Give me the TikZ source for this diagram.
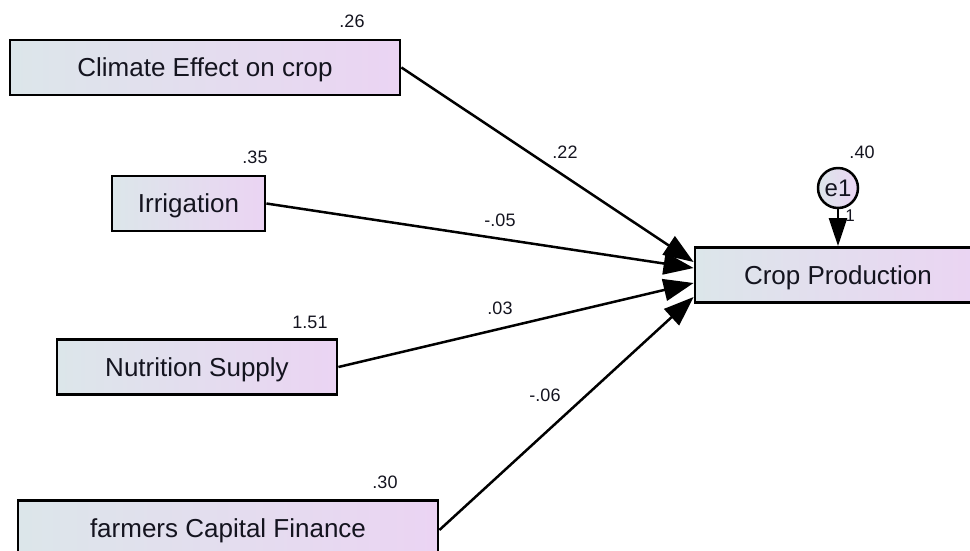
\documentclass[tikz,border=0pt]{standalone}
\usepackage{fontspec}
\setmainfont{Liberation Sans}
\usetikzlibrary{arrows.meta}

\begin{document}
\begin{tikzpicture}[x=1pt, y=-1pt, font=\fontsize{26}{30}\selectfont]
  \definecolor{boxleft}{HTML}{DCE6EA}
  \definecolor{boxright}{HTML}{EBD4F3}
  \definecolor{inktext}{HTML}{14141F}
  \tikzset{
    var/.style={draw=black, line width=2.8pt, left color=boxleft, right color=boxright,
      minimum height=55pt, inner sep=0pt, text=inktext, text height=19pt, text depth=1pt},
    err/.style={circle, draw=black, line width=2.5pt, left color=boxleft, right color=boxright,
      minimum size=40pt, inner sep=0pt, text=inktext, font=\fontsize{24}{26}\selectfont},
    est/.style={font=\fontsize{18}{20}\selectfont, text=inktext, inner sep=0pt},
    reg/.style={line width=2.5pt, -{Triangle[length=30pt, width=22pt]}}
  }

  \clip (0,0) rectangle (970,550);

  % observed variables
  \node[var, minimum width=390pt] (clim) at (205,67.5) {Climate Effect on crop};
  \node[var, minimum width=153pt] (irri) at (188.5,203.5) {Irrigation};
  \node[var, minimum width=280pt] (nutr) at (197,367) {Nutrition Supply};
  \node[var, minimum width=420pt] (fin) at (228,528) {farmers Capital Finance};
  \node[var, minimum width=286pt] (crop) at (838,275) {Crop Production};
  \node[err] (e1) at (838,188) {e1};

  % variances
  \node[est] (vclim) at (352,21) {.26};
  \node[est] (virri) at (255,157) {.35};
  \node[est] (vnutr) at (310,322) {1.51};
  \node[est] (vfin) at (385,482) {.30};
  \node[est] (vcrop) at (862,152) {.40};

  % paths
  \draw[reg] (clim.east) -- ([yshift=13pt]crop.west);
  \draw[reg] (irri.east) -- ([yshift=7pt]crop.west);
  \draw[reg] (nutr.east) -- ([yshift=-8pt]crop.west);
  \draw[reg] ([yshift=-2pt]fin.east) -- ([yshift=-22pt]crop.west);
  \draw[reg, -{Triangle[length=28pt, width=18pt]}] (e1.south) -- (crop.north);

  % estimates
  \node[est] (wclim) at (565,152) {.22};
  \node[est] (wirri) at (500,220) {-.05};
  \node[est] (wnutr) at (500,308) {.03};
  \node[est] (wfin) at (545,395) {-.06};
  \node[est, font=\fontsize{17}{19}\selectfont] (we1) at (850,216) {1};
\end{tikzpicture}
\end{document}
